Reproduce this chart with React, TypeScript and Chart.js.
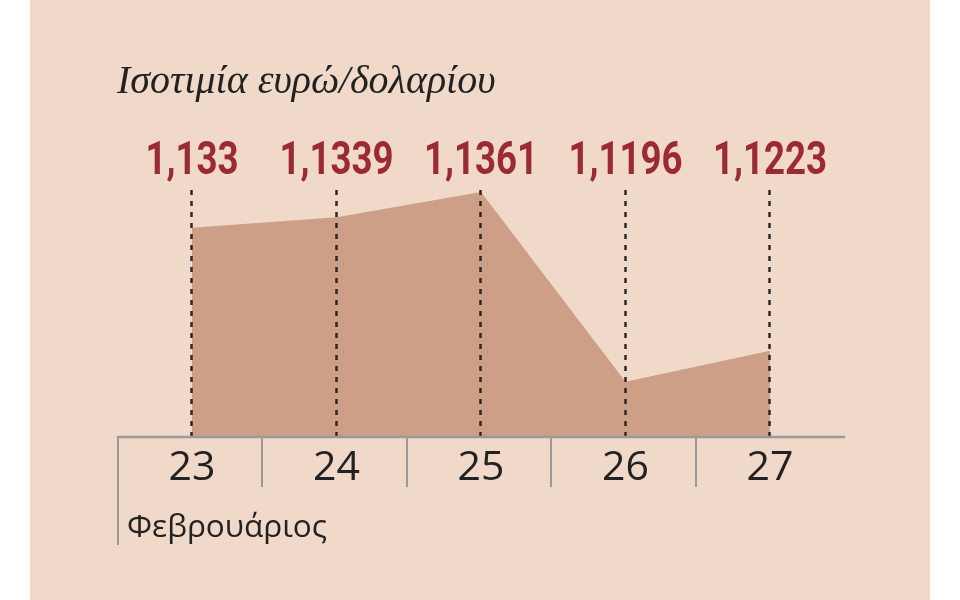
import React, { useEffect, useRef } from 'react';
import { Chart, registerables } from 'chart.js';

Chart.register(...registerables);

const days: string[] = ['23', '24', '25', '26', '27'];
const rates: number[] = [1.133, 1.1339, 1.1361, 1.1196, 1.1223];
const rateLabels: string[] = ['1,133', '1,1339', '1,1361', '1,1196', '1,1223'];
const titleText = 'Ισοτιμία ευρώ/δολαρίου';
const monthText = 'Φεβρουάριος';
const yMin = 1.1148;
const yMax = 1.1441;

const PANEL = '#f1d9ca';
const AREA = '#cd9f86';
const RED = '#9b2b33';
const INK = '#222222';
const AXIS = '#9a9a9a';
const VALUE_FONT = "Roboto, 'Open Sans', sans-serif";
const SANS_FONT = "'Open Sans', 'Noto Sans', sans-serif";

const overlay = {
  id: 'overlay',
  afterDatasetsDraw(chart: any) {
    const ctx = chart.ctx as CanvasRenderingContext2D;
    const xs = chart.scales.x;
    const { left, right, bottom } = chart.chartArea;
    const w = (right - left) / days.length;
    ctx.save();

    // dashed guide lines
    ctx.strokeStyle = '#2a2a2a';
    ctx.lineWidth = 2.5;
    ctx.setLineDash([5, 6]);
    days.forEach((_, i) => {
      const px = Math.round(xs.getPixelForValue(i)) - 0.5;
      ctx.beginPath();
      ctx.moveTo(px, 190);
      ctx.lineTo(px, bottom + 1);
      ctx.stroke();
    });
    ctx.setLineDash([]);

    // baseline
    ctx.strokeStyle = AXIS;
    ctx.lineWidth = 2.5;
    ctx.beginPath();
    ctx.moveTo(left - 3, bottom);
    ctx.lineTo(right + 3, bottom);
    ctx.stroke();

    // separators
    ctx.lineWidth = 2;
    days.forEach((_, i) => {
      const sx = Math.round(left + i * w) - 2;
      ctx.beginPath();
      ctx.moveTo(sx, bottom);
      ctx.lineTo(sx, i === 0 ? bottom + 108 : bottom + 50);
      ctx.stroke();
    });

    // value labels (condensed bold)
    ctx.fillStyle = RED;
    ctx.font = `bold 47px ${VALUE_FONT}`;
    ctx.textAlign = 'center';
    ctx.textBaseline = 'alphabetic';
    const squeeze = 0.78;
    rateLabels.forEach((t, i) => {
      const cx = xs.getPixelForValue(i);
      ctx.save();
      ctx.translate(cx, 174);
      ctx.scale(squeeze, 1);
      ctx.fillText(t, 0, 0);
      ctx.restore();
    });

    // title
    ctx.fillStyle = INK;
    ctx.textAlign = 'left';
    ctx.font = "italic 40px 'Liberation Serif', 'DejaVu Serif', serif";
    ctx.fillText(titleText, 117, 93);

    // month label
    ctx.font = `31.5px ${SANS_FONT}`;
    ctx.fillStyle = INK;
    ctx.fillText(monthText, 127, 537);

    ctx.restore();
  },
};

export default function App() {
  const ref = useRef<HTMLCanvasElement | null>(null);

  useEffect(() => {
    if (!ref.current) return;
    const chart = new Chart(ref.current, {
      type: 'line',
      data: {
        labels: days,
        datasets: [
          {
            data: rates,
            fill: 'start',
            backgroundColor: AREA,
            borderWidth: 0,
            pointRadius: 0,
            tension: 0,
          },
        ],
      },
      options: {
        responsive: false,
        animation: false,
        layout: { padding: { left: 119.75, right: 117.75, top: 100, bottom: 0 } },
        plugins: { legend: { display: false }, tooltip: { enabled: false }, title: { display: false } },
        scales: {
          x: {
            type: 'category',
            offset: true,
            grid: { display: false, drawTicks: false },
            border: { display: false },
            ticks: {
              color: INK,
              font: { family: SANS_FONT, size: 41 },
              padding: 7,
              maxRotation: 0,
              autoSkip: false,
            },
            afterFit: (s: any) => {
              s.height = 163;
            },
          },
          y: {
            display: false,
            min: yMin,
            max: yMax,
          },
        },
      },
      plugins: [overlay],
    });
    return () => chart.destroy();
  }, []);

  return (
    <div style={{ position: 'absolute', left: 0, top: 0, width: 960, height: 600, background: '#ffffff' }}>
      <div style={{ position: 'absolute', left: 30, top: 0, width: 900, height: 600, background: PANEL }} />
      <canvas ref={ref} width={960} height={600} style={{ position: 'absolute', left: 0, top: 0, width: 960, height: 600 }} />
    </div>
  );
}
